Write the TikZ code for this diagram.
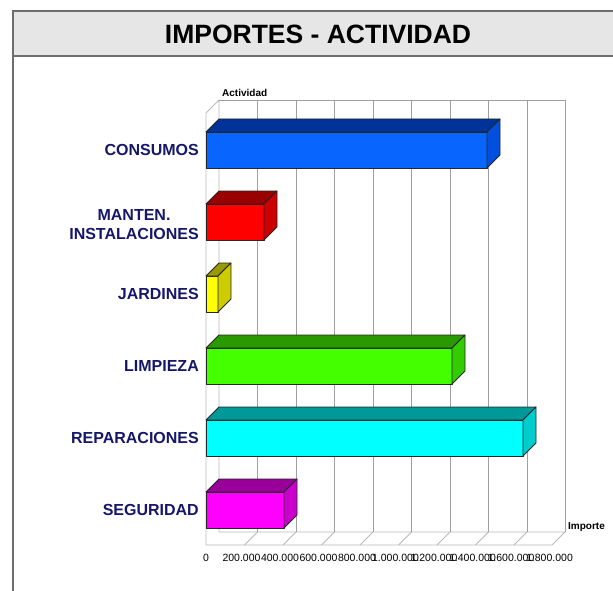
\documentclass[tikz,border=0pt]{standalone}
\usepackage{fontspec}
\setmainfont{Liberation Sans}
\usepackage{tikz}
\usetikzlibrary{positioning}
\definecolor{framegray}{HTML}{6E6E6E}
\definecolor{bandgray}{HTML}{E6E6E6}
\definecolor{labelblue}{HTML}{16166A}
\definecolor{consfront}{HTML}{0866FF}
\definecolor{constop}{HTML}{003399}
\definecolor{consside}{HTML}{0050DD}
\definecolor{mantfront}{HTML}{FF0000}
\definecolor{manttop}{HTML}{990000}
\definecolor{mantside}{HTML}{CC0000}
\definecolor{jardfront}{HTML}{FFFF00}
\definecolor{jardtop}{HTML}{999900}
\definecolor{jardside}{HTML}{CCCC00}
\definecolor{limpfront}{HTML}{44FF00}
\definecolor{limptop}{HTML}{2A9900}
\definecolor{limpside}{HTML}{33CC00}
\definecolor{repafront}{HTML}{00FFFF}
\definecolor{repatop}{HTML}{009999}
\definecolor{repaside}{HTML}{00CCCC}
\definecolor{segufront}{HTML}{FF00FF}
\definecolor{segutop}{HTML}{990099}
\definecolor{seguside}{HTML}{CC00CC}
\tikzset{
    frameline/.style={draw=framegray, line width=2pt},
    wall/.style={draw=gray!55, line width=0.8pt},
    gridline/.style={draw=gray!75, line width=0.8pt},
    barface/.style={draw=black!85, line width=0.8pt, line join=round},
    catlabel/.style={anchor=east, text=labelblue, align=center, inner sep=0pt,
        font=\fontsize{16}{19}\selectfont\bfseries},
    ticklabel/.style={font=\fontsize{10.5}{12}\selectfont, inner sep=0pt},
    axislabel/.style={font=\fontsize{10}{12}\selectfont\bfseries, inner sep=0pt},
}

\begin{document}
\begin{tikzpicture}[x=1pt, y=-1pt]
	\useasboundingbox (0,0) rectangle (613,591);
	\fill[bandgray] (13,11) rectangle (613,56);
	\draw[frameline] (613,11)--(13,11)--(13,591);
	\draw[frameline] (13,56)--(613,56);
	\node (title) at (318,34) {\fontsize{26.5}{30}\selectfont\bfseries IMPORTES - ACTIVIDAD};
	% walls
	\draw[wall] (206,545)--(206,113)--(219,100)--(219,532);
	\draw[wall] (206,545)--(552,545)--(565,532)--(219,532);
	\draw[gridline] (219,100)--(565,100);
	\draw[gridline] (257.5,100)--(257.5,532);
	\draw[gridline] (296,100)--(296,532);
	\draw[gridline] (334.5,100)--(334.5,532);
	\draw[gridline] (373,100)--(373,532);
	\draw[gridline] (411.5,100)--(411.5,532);
	\draw[gridline] (450,100)--(450,532);
	\draw[gridline] (488.5,100)--(488.5,532);
	\draw[gridline] (527,100)--(527,532);
	\draw[gridline] (565,100)--(565,532);
	\draw[wall] (244.5,545)--(257.5,532);
	\draw[wall] (283,545)--(296,532);
	\draw[wall] (321.5,545)--(334.5,532);
	\draw[wall] (360,545)--(373,532);
	\draw[wall] (398.5,545)--(411.5,532);
	\draw[wall] (437,545)--(450,532);
	\draw[wall] (475.5,545)--(488.5,532);
	\draw[wall] (514,545)--(527,532);
	\node[axislabel, anchor=south west] (actividad) at (222,97) {Actividad};
	\node[axislabel, anchor=west] (importe) at (568,527) {Importe};
	\node[ticklabel] (t0) at (206,558) {0};
	\node[ticklabel] (t1) at (241.5,558) {200.000};
	\node[ticklabel] (t2) at (280,558) {400.000};
	\node[ticklabel] (t3) at (318.5,558) {600.000};
	\node[ticklabel] (t4) at (357,558) {800.000};
	\node[ticklabel] (t5) at (395.5,558) {1.000.000};
	\node[ticklabel] (t6) at (434,558) {1.200.000};
	\node[ticklabel] (t7) at (472.5,558) {1.400.000};
	\node[ticklabel] (t8) at (511,558) {1.600.000};
	\node[ticklabel] (t9) at (549.5,558) {1.800.000};
	% bars
\begin{scope}[shift={(206,132)}]
	\draw[barface, fill=consfront] (0,0) rectangle (281,36);
	\draw[barface, fill=constop] (0,0)--(13,-13)--(294,-13)--(281,0)--cycle;
	\draw[barface, fill=consside] (281,0)--(294,-13)--(294,23)--(281,36)--cycle;
	\node[catlabel] (consumos) at (-7,18) {CONSUMOS};
\end{scope}
\begin{scope}[shift={(206,204)}]
	\draw[barface, fill=mantfront] (0,0) rectangle (58,36);
	\draw[barface, fill=manttop] (0,0)--(13,-13)--(71,-13)--(58,0)--cycle;
	\draw[barface, fill=mantside] (58,0)--(71,-13)--(71,23)--(58,36)--cycle;
	\node[catlabel] (manten) at (-7,21) {MANTEN.\\INSTALACIONES};
\end{scope}
\begin{scope}[shift={(206,276)}]
	\draw[barface, fill=jardfront] (0,0) rectangle (12,36);
	\draw[barface, fill=jardtop] (0,0)--(13,-13)--(25,-13)--(12,0)--cycle;
	\draw[barface, fill=jardside] (12,0)--(25,-13)--(25,23)--(12,36)--cycle;
	\node[catlabel] (jardines) at (-7,18) {JARDINES};
\end{scope}
\begin{scope}[shift={(206,348)}]
	\draw[barface, fill=limpfront] (0,0) rectangle (246,36);
	\draw[barface, fill=limptop] (0,0)--(13,-13)--(259,-13)--(246,0)--cycle;
	\draw[barface, fill=limpside] (246,0)--(259,-13)--(259,23)--(246,36)--cycle;
	\node[catlabel] (limpieza) at (-7,18) {LIMPIEZA};
\end{scope}
\begin{scope}[shift={(206,420)}]
	\draw[barface, fill=repafront] (0,0) rectangle (317,36);
	\draw[barface, fill=repatop] (0,0)--(13,-13)--(330,-13)--(317,0)--cycle;
	\draw[barface, fill=repaside] (317,0)--(330,-13)--(330,23)--(317,36)--cycle;
	\node[catlabel] (reparaciones) at (-7,18) {REPARACIONES};
\end{scope}
\begin{scope}[shift={(206,492)}]
	\draw[barface, fill=segufront] (0,0) rectangle (78,36);
	\draw[barface, fill=segutop] (0,0)--(13,-13)--(91,-13)--(78,0)--cycle;
	\draw[barface, fill=seguside] (78,0)--(91,-13)--(91,23)--(78,36)--cycle;
	\node[catlabel] (seguridad) at (-7,18) {SEGURIDAD};
\end{scope}
\end{tikzpicture}
\end{document}
